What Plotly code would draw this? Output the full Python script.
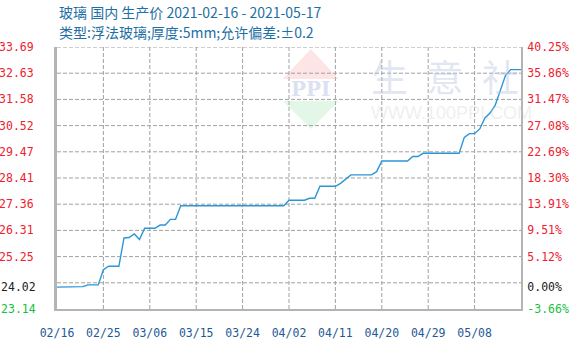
import plotly.graph_objects as go
import pandas as pd

# ---------------- data ----------------
start_date = "2021-02-16"
end_date = "2021-05-17"
base_price = 24.02
prices = [
    24.02, 24.02, 24.02, 24.02, 24.04, 24.04, 24.11, 24.11, 24.11, 24.72,
    24.86, 24.86, 24.86, 26.00, 26.02, 26.16, 25.94, 26.39, 26.39, 26.39,
    26.52, 26.52, 26.75, 26.75,
    27.30, 27.30, 27.30, 27.30, 27.30, 27.30, 27.30, 27.30, 27.30, 27.30,
    27.30, 27.30, 27.30, 27.30, 27.30, 27.30, 27.30, 27.30, 27.30, 27.30, 27.30,
    27.52, 27.52, 27.52, 27.52, 27.60, 27.60,
    28.08, 28.08, 28.08, 28.08, 28.20, 28.38,
    28.54, 28.54, 28.54, 28.54, 28.54, 28.67,
    29.10, 29.10, 29.10, 29.10, 29.10, 29.10, 29.28, 29.28,
    29.41, 29.41, 29.41, 29.41, 29.41, 29.41, 29.41, 29.41,
    30.05, 30.20, 30.20, 30.39, 30.83, 31.03, 31.35, 31.95, 32.55,
    32.78, 32.78, 32.78,
]
dates = pd.date_range(start_date, periods=len(prices), freq="D")

x_tick_dates = ["2021-02-16", "2021-02-25", "2021-03-06", "2021-03-15", "2021-03-24",
                "2021-04-02", "2021-04-11", "2021-04-20", "2021-04-29", "2021-05-08"]
x_tick_labels = ["02/16", "02/25", "03/06", "03/15", "03/24",
                 "04/02", "04/11", "04/20", "04/29", "05/08"]

y_min, y_max = 23.14, 33.69
grid_values = [33.69, 32.635, 31.58, 30.525, 29.47, 28.415, 27.36, 26.305, 25.25, 24.195]
grid_labels = ["33.69", "32.63", "31.58", "30.52", "29.47", "28.41", "27.36", "26.31", "25.25", ""]
low_ticks = [24.02, 23.14]
low_labels = ["24.02", "23.14"]
pct_tick_prices = [33.69, 32.63, 31.58, 30.52, 29.47, 28.41, 27.36, 26.31, 25.25, 24.02, 23.14]
right_labels = ["40.25%", "35.86%", "31.47%", "27.08%", "22.69%", "18.30%", "13.91%", "9.51%", "5.12%", "0.00%", "-3.66%"]

RED = "#f0202e"
GREEN = "#18c040"
BLACK = "#222222"
GRID = "#a0a0a0"


def colored(label, value):
    if abs(value - base_price) < 1e-9:
        c = BLACK
    elif value < base_price:
        c = GREEN
    else:
        c = RED
    return f'<span style="color:{c}">{label}</span>'


pct = [(p / base_price - 1) * 100 for p in prices]
pct_ticks = [(v / base_price - 1) * 100 for v in pct_tick_prices]

fig = go.Figure()
fig.add_trace(go.Scatter(x=dates, y=prices, mode="lines", yaxis="y3",
                         line=dict(color="rgba(0,0,0,0)", width=0),
                         hoverinfo="skip", showlegend=False))
fig.add_trace(go.Scatter(x=dates, y=pct, mode="lines", yaxis="y2",
                         line=dict(color="rgba(0,0,0,0)", width=0),
                         hoverinfo="skip", showlegend=False))
fig.add_trace(go.Scatter(x=dates, y=prices, mode="lines",
                         line=dict(color="#2b97d6", width=1.4),
                         hoverinfo="skip", showlegend=False))

tick_font = dict(family="DejaVu Sans Mono", size=11.5, color=RED)

fig.update_layout(
    width=573, height=341,
    margin=dict(l=57, r=52, t=47, b=32),
    paper_bgcolor="white", plot_bgcolor="white",
    xaxis=dict(
        type="date",
        range=[start_date, end_date],
        tickvals=x_tick_dates, ticktext=x_tick_labels,
        showgrid=False,
        showline=True, linecolor="#b4b4b4", linewidth=2,
        ticks="outside", ticklen=12, tickcolor="rgba(255,255,255,0)",
        tickfont=dict(family="DejaVu Sans Mono", size=11.5, color="#1f5a96"),
        zeroline=False, automargin=False,
    ),
    yaxis=dict(
        range=[y_min, y_max],
        tickvals=grid_values,
        ticktext=[colored(l, v) if l else "" for l, v in zip(grid_labels, grid_values)],
        showgrid=False, zeroline=False,
        showline=True, linecolor="#b4b4b4", linewidth=3,
        ticks="outside", ticklen=18, tickcolor="rgba(255,255,255,0)",
        tickfont=tick_font, automargin=False,
    ),
    yaxis3=dict(
        overlaying="y", side="left",
        range=[y_min, y_max],
        tickvals=low_ticks,
        ticktext=[colored(l, v) for l, v in zip(low_labels, low_ticks)],
        showgrid=False, zeroline=False, showline=False,
        ticks="outside", ticklen=18, tickcolor="rgba(255,255,255,0)",
        tickfont=tick_font, automargin=False,
    ),
    yaxis2=dict(
        overlaying="y", side="right",
        range=[(y_min / base_price - 1) * 100, (y_max / base_price - 1) * 100],
        tickvals=pct_ticks,
        ticktext=[colored(l, v) for l, v in zip(right_labels, pct_tick_prices)],
        showgrid=False, zeroline=False,
        showline=True, linecolor="#b4b4b4", linewidth=2,
        ticks="outside", ticklen=2, tickcolor="rgba(255,255,255,0)",
        tickfont=tick_font, automargin=False,
    ),
    showlegend=False,
)

# dashed gridlines, built from the tick lists
for gv in grid_values:
    fig.add_shape(type="line", xref="x", yref="y", x0=start_date, x1=end_date, y0=gv, y1=gv,
                  line=dict(color=GRID, width=1, dash="4px,2px"), layer="below")
for td in x_tick_dates[1:]:
    fig.add_shape(type="line", xref="x", yref="paper", x0=td, x1=td, y0=0, y1=1,
                  line=dict(color=GRID, width=1, dash="4px,2px"), layer="below")

# watermark: PPI logo diamond
fig.add_shape(type="path", xref="paper", yref="paper",
              xsizemode="pixel", ysizemode="pixel", xanchor=0.547, yanchor=0.84,
              path="M 0 40 L 28 10 L -28 10 Z",
              fillcolor="rgba(250,170,170,0.3)", line=dict(width=0), layer="below")
fig.add_shape(type="path", xref="paper", yref="paper",
              xsizemode="pixel", ysizemode="pixel", xanchor=0.547, yanchor=0.84,
              path="M 0 -40 L 28 -12 L -28 -12 Z",
              fillcolor="rgba(160,230,180,0.3)", line=dict(width=0), layer="below")
fig.add_annotation(xref="paper", yref="paper", x=0.547, y=0.84, yanchor="middle",
                   text="<b>PPI</b>", showarrow=False,
                   font=dict(family="DejaVu Serif", size=20, color="rgba(150,170,215,0.35)"))
fig.add_annotation(xref="paper", yref="paper", x=0.672, y=0.89, xanchor="left", yanchor="middle",
                   text="生\u2002意\u2002社", showarrow=False,
                   font=dict(family="Noto Sans CJK SC", size=37, color="rgba(190,200,228,0.45)"))
fig.add_annotation(xref="paper", yref="paper", x=0.672, y=0.75, xanchor="left", yanchor="middle",
                   text="WWW.100PPI.COM", showarrow=False,
                   font=dict(family="Liberation Sans", size=18, color="rgba(200,200,200,0.3)"))

# titles
fig.add_annotation(xref="paper", yref="paper", x=0, y=1.134, xanchor="left", yanchor="middle",
                   text="玻璃 国内 生产价 2021-02-16 - 2021-05-17", showarrow=False,
                   font=dict(family="Noto Sans CJK SC", size=14, color="#1d6fa5"))
fig.add_annotation(xref="paper", yref="paper", x=0, y=1.057, xanchor="left", yanchor="middle",
                   text="类型:浮法玻璃;厚度:5mm;允许偏差:±0.2", showarrow=False,
                   font=dict(family="Noto Sans CJK SC", size=14, color="#1d6fa5"))

fig.write_html("out.html")
